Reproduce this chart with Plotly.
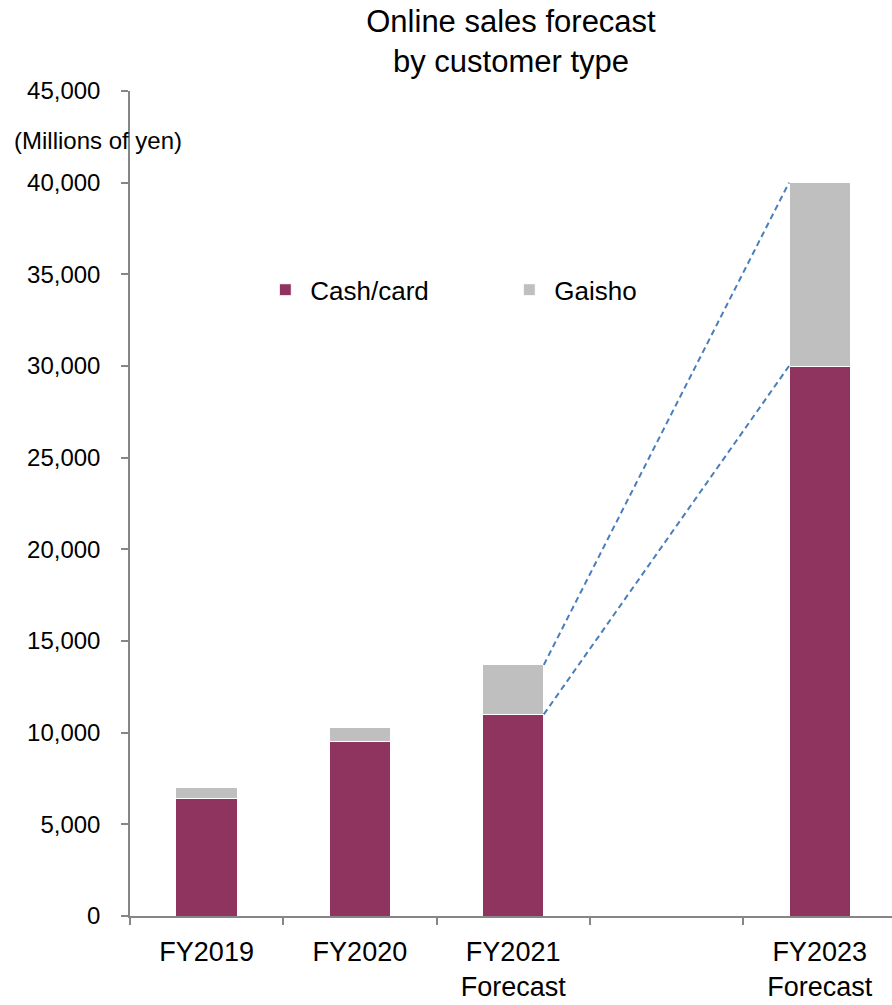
import plotly.graph_objects as go

categories = ["FY2019", "FY2020", "FY2021<br>Forecast", " ", "FY2023<br>Forecast"]
cash_card = [6400, 9500, 11000, None, 30000]
gaisho = [600, 800, 2700, None, 10000]
y_ticks = [0, 5000, 10000, 15000, 20000, 25000, 30000, 35000, 40000, 45000]
y_tick_labels = ["0", "5,000", "10,000", "15,000", "20,000", "25,000", "30,000", "35,000", "40,000", "45,000"]

BAR_W = 0.4
MAROON = "#8F345E"
GREY = "#BFBFBF"

fig = go.Figure()
fig.add_trace(go.Bar(name="Cash/card", x=categories, y=cash_card, width=BAR_W,
                     marker=dict(color=MAROON, line=dict(color="white", width=1))))
fig.add_trace(go.Bar(name="Gaisho", x=categories, y=gaisho, width=BAR_W,
                     marker=dict(color=GREY, line=dict(color="white", width=1))))

# connector lines between FY2021 Forecast and FY2023 Forecast
totals = [None if c is None else c + g for c, g in zip(cash_card, gaisho)]
i0, i1 = 2, 4
for vals in (totals, cash_card):
    fig.add_shape(type="line", xref="x", yref="y",
                  x0=i0 + BAR_W / 2, y0=vals[i0], x1=i1 - BAR_W / 2, y1=vals[i1],
                  line=dict(color="#4A7EBB", width=2, dash="6px,4px"))

fig.update_layout(
    barmode="stack",
    width=892, height=1005,
    margin=dict(l=130, r=0, t=91, b=89),
    paper_bgcolor="white", plot_bgcolor="white",
    font=dict(family="Liberation Sans, Arial, sans-serif", color="black"),
    title=dict(text="Online sales forecast<br>by customer type", x=0.5, xref="paper",
               y=0.968, yref="container", yanchor="top",
               font=dict(size=31, color="black")),
    showlegend=True,
    legend=dict(orientation="h", x=0.171, y=0.759, xanchor="left", yanchor="middle",
                font=dict(size=26), entrywidth=189, entrywidthmode="pixels",
                itemwidth=40,
                bgcolor="rgba(0,0,0,0)", traceorder="normal"),
    bargap=0.6,
)
fig.update_xaxes(type="category", categoryorder="array", categoryarray=categories,
                 range=[-0.5, 4.472], showline=True, linecolor="#868686", linewidth=1.5,
                 ticks="outside", ticklen=7, tickcolor="#868686", tickwidth=1.5,
                 tickson="boundaries", tickfont=dict(size=27), ticklabelstandoff=11,
                 showgrid=False, zeroline=False, automargin=False)
fig.update_yaxes(range=[0, 45000], tickvals=y_ticks, ticktext=y_tick_labels,
                 showline=True, linecolor="#868686", linewidth=1.5,
                 ticks="outside", ticklen=7, tickcolor="#868686", tickwidth=1.5,
                 tickfont=dict(size=24), ticklabelstandoff=16,
                 showgrid=False, zeroline=False, automargin=False)

fig.add_annotation(text="(Millions of yen)", xref="paper", yref="paper",
                   x=-0.155, y=0.9406, xanchor="left", yanchor="middle",
                   showarrow=False, font=dict(size=24, color="black"))

fig.write_html("out.html")
